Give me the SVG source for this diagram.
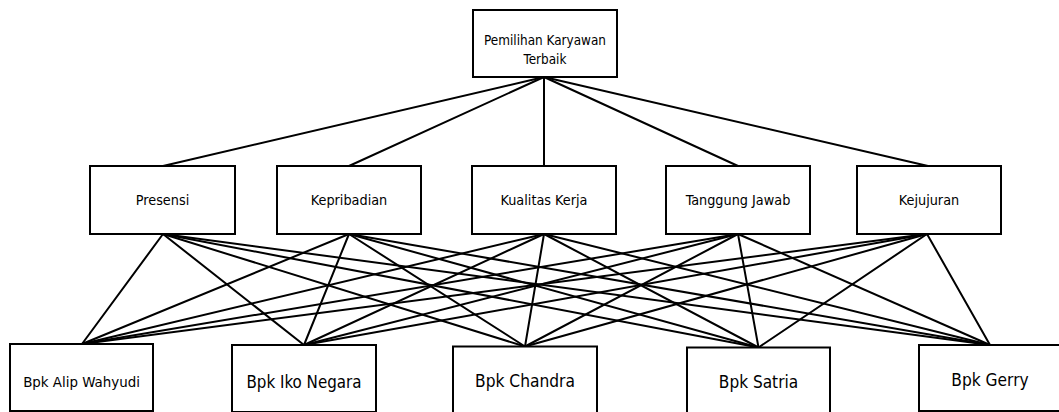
<svg xmlns="http://www.w3.org/2000/svg" width="1059" height="412" viewBox="0 0 1059 412">
<style>
.box{fill:#fff;stroke:#000;stroke-width:2}
.lbl{font-family:"DejaVu Sans Condensed","DejaVu Sans",sans-serif;font-stretch:condensed;fill:#000;text-anchor:middle}
.c line{stroke:#000;stroke-width:2;stroke-linecap:round}
</style>
<rect width="1059" height="412" fill="#fff"/>
<g class="c" id="connectors">
<line x1="544" y1="77" x2="163" y2="166"/>
<line x1="544" y1="77" x2="349" y2="166"/>
<line x1="544" y1="77" x2="544" y2="166"/>
<line x1="544" y1="77" x2="738" y2="166"/>
<line x1="544" y1="77" x2="928" y2="166"/>
<line x1="163" y1="234" x2="82" y2="344"/>
<line x1="163" y1="234" x2="304" y2="345"/>
<line x1="163" y1="234" x2="525" y2="346.5"/>
<line x1="163" y1="234" x2="758.5" y2="347.5"/>
<line x1="163" y1="234" x2="990" y2="345"/>
<line x1="349" y1="234" x2="82" y2="344"/>
<line x1="349" y1="234" x2="304" y2="345"/>
<line x1="349" y1="234" x2="525" y2="346.5"/>
<line x1="349" y1="234" x2="758.5" y2="347.5"/>
<line x1="349" y1="234" x2="990" y2="345"/>
<line x1="544" y1="234" x2="82" y2="344"/>
<line x1="544" y1="234" x2="304" y2="345"/>
<line x1="544" y1="234" x2="525" y2="346.5"/>
<line x1="544" y1="234" x2="758.5" y2="347.5"/>
<line x1="544" y1="234" x2="990" y2="345"/>
<line x1="738" y1="234" x2="82" y2="344"/>
<line x1="738" y1="234" x2="304" y2="345"/>
<line x1="738" y1="234" x2="525" y2="346.5"/>
<line x1="738" y1="234" x2="758.5" y2="347.5"/>
<line x1="738" y1="234" x2="990" y2="345"/>
<line x1="927" y1="234" x2="82" y2="344"/>
<line x1="927" y1="234" x2="304" y2="345"/>
<line x1="927" y1="234" x2="525" y2="346.5"/>
<line x1="927" y1="234" x2="758.5" y2="347.5"/>
<line x1="927" y1="234" x2="990" y2="345"/>
</g>
<g id="root">
<rect class="box" x="473" y="10" width="144" height="67"/>
<text class="lbl" x="545" y="45" font-size="13.4">Pemilihan Karyawan</text>
<text class="lbl" x="545" y="64" font-size="13.4">Terbaik</text>
</g>
<g id="presensi">
<rect class="box" x="90" y="166" width="145" height="68"/>
<text class="lbl" x="162.5" y="205" font-size="14.3">Presensi</text>
</g>
<g id="kepribadian">
<rect class="box" x="277" y="166" width="144" height="68"/>
<text class="lbl" x="349" y="205" font-size="14.3">Kepribadian</text>
</g>
<g id="kualitas">
<rect class="box" x="472" y="166" width="144" height="68"/>
<text class="lbl" x="544" y="205" font-size="14.3">Kualitas Kerja</text>
</g>
<g id="tanggung">
<rect class="box" x="666" y="166" width="144" height="68"/>
<text class="lbl" x="738" y="205" font-size="14.3">Tanggung Jawab</text>
</g>
<g id="kejujuran">
<rect class="box" x="857" y="166" width="144" height="68"/>
<text class="lbl" x="929" y="205" font-size="14.3">Kejujuran</text>
</g>
<g id="alip">
<rect class="box" x="10" y="344" width="143" height="67"/>
<text class="lbl" x="81.5" y="387" font-size="14.9">Bpk Alip Wahyudi</text>
</g>
<g id="iko">
<rect class="box" x="232" y="345" width="144" height="67"/>
<text class="lbl" x="304" y="388" font-size="16.8">Bpk Iko Negara</text>
</g>
<g id="chandra">
<rect class="box" x="453" y="346.5" width="144" height="67"/>
<text class="lbl" x="525" y="387" font-size="17.2">Bpk Chandra</text>
</g>
<g id="satria">
<rect class="box" x="687" y="347.5" width="143" height="67"/>
<text class="lbl" x="758.5" y="388" font-size="17.1">Bpk Satria</text>
</g>
<g id="gerry">
<rect class="box" x="919" y="345" width="143" height="66"/>
<text class="lbl" x="990" y="386" font-size="17.2">Bpk Gerry</text>
</g>
</svg>
